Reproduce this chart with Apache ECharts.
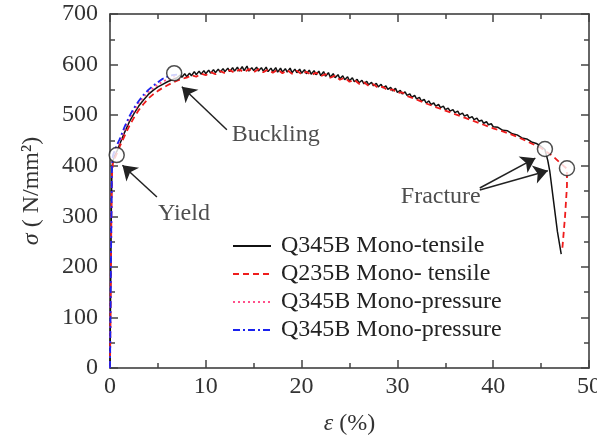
<!DOCTYPE html>
<html>
<head>
<meta charset="utf-8">
<script src="https://cdn.jsdelivr.net/npm/echarts@6/dist/echarts.min.js"></script>
<style>html,body{margin:0;padding:0;background:#fff}#c{width:597px;height:440px}</style>
</head>
<body>
<div id="c"></div>
<script>
// ---- Data ----
const xTicks = [0, 10, 20, 30, 40, 50];
const yTicks = [0, 100, 200, 300, 400, 500, 600, 700];
const seriesNames = ['Q345B Mono-tensile', 'Q235B Mono- tensile', 'Q345B Mono-pressure', 'Q345B Mono-pressure '];

const q345Tensile = [
[0,0],[0.05,120],[0.1,230],[0.15,330],[0.2,395],[0.3,410],[0.5,420],[0.8,432],[1,442],[1.5,465],[2,486],[2.5,503],[3,518],[3.5,530],[4,541],[4.5,549],[5,556],[5.5,561],[6,566],[6.5,570],[7,574],[7.3,579],[7.5,575],[7.8,582],[8,576],[8.3,583],[8.5,578],[8.8,586],[9,580],[9.3,587],[9.5,581],[9.8,588],[10,582],[10.3,589],[10.5,583],[10.8,590],[11,584],[11.3,591],[11.5,585],[11.8,592],[12,586],[12.3,593],[12.5,586],[12.8,594],[13,587],[13.3,595],[13.5,587],[13.8,596],[14,588],[14.3,597],[14.5,587],[14.8,594],[15,588],[15.3,595],[15.5,587],[15.8,594],[16,587],[16.3,595],[16.5,586],[16.8,593],[17,586],[17.3,594],[17.5,585],[17.8,593],[18,585],[18.3,592],[18.5,585],[18.8,593],[19,584],[19.3,591],[19.5,584],[19.8,591],[20,583],[20.3,590],[20.5,582],[20.8,589],[21,581],[21.3,588],[21.5,580],[21.8,587],[22,578],[22.3,586],[22.5,577],[22.8,584],[23,575],[23.3,582],[23.5,574],[23.8,580],[24,572],[24.3,578],[24.5,570],[24.8,576],[25,568],[25.3,574],[25.5,566],[25.8,571],[26,564],[26.3,569],[26.5,562],[26.8,567],[27,560],[27.3,565],[27.5,558],[27.8,563],[28,556],[28.3,561],[28.5,554],[28.8,558],[29,551],[29.3,555],[29.5,548],[29.8,553],[30,545],[30.3,549],[30.5,542],[30.8,546],[31,539],[31.3,542],[31.5,535],[31.8,539],[32,532],[32.3,535],[32.5,528],[32.8,531],[33,524],[33.3,528],[33.5,521],[33.8,524],[34,518],[34.3,521],[34.5,515],[34.8,518],[35,511],[35.3,514],[35.5,508],[35.8,511],[36,505],[36.3,508],[36.5,501],[36.8,504],[37,498],[37.3,501],[37.5,494],[37.8,497],[38,491],[38.3,494],[38.5,488],[38.8,490],[39,484],[39.3,487],[39.5,481],[39.8,483],[40,477],[40.5,476],[41,470],[41.5,469],[42,463],[42.5,461],[43,455],[43.5,453],[44,447],[44.5,444],[45,438],[45.4,432],[45.7,410],[45.9,390],[46.3,330],[46.7,270],[47.1,225]
];
const q235Tensile = [
[0,0],[0.05,100],[0.1,210],[0.15,310],[0.2,380],[0.3,405],[0.5,415],[0.8,428],[1,437],[1.5,458],[2,478],[2.5,495],[3,510],[3.5,522],[4,533],[4.5,541],[5,548],[5.5,554],[6,559],[6.5,564],[7,568],[7.5,572],[8,574],[8.5,579],[9,576],[9.5,582],[10,579],[10.5,585],[11,581],[11.5,587],[12,583],[12.5,589],[13,584],[13.5,590],[14,585],[14.5,591],[15,585],[15.5,591],[16,585],[16.5,590],[17,584],[17.5,590],[18,583],[18.5,589],[19,582],[19.5,588],[20,581],[20.5,586],[21,579],[21.5,584],[22,577],[22.5,581],[23,574],[23.5,578],[24,570],[24.5,574],[25,566],[25.5,570],[26,562],[26.5,565],[27,558],[27.5,561],[28,554],[28.5,556],[29,549],[29.5,551],[30,544],[30.5,545],[31,538],[32,531],[33,523],[34,516],[35,509],[36,502],[37,495],[38,488],[39,481],[40,474],[41,468],[42,461],[43,453],[44,444],[45,435],[45.6,427],[46.3,418],[47,405],[47.7,394],[47.7,360],[47.5,300],[47.3,255],[47.2,232]
];
const q345Pressure1 = [
[0,0],[0.1,220],[0.2,400],[0.3,418],[0.6,432],[1,446],[1.5,470],[2,492],[2.5,508],[3,524],[3.5,535],[4,546],[4.5,553],[5,561],[5.5,566],[6,571],[6.5,575],[7,578]
];
const q345Pressure2 = [
[0,0],[0.1,210],[0.2,395],[0.3,420],[0.6,436],[1,452],[1.5,476],[2,497],[2.5,514],[3,528],[3.5,540],[4,550],[4.5,558],[5,565],[5.5,572],[6,576],[6.5,579],[7,580]
];
const keyPoints = [[0.7,421],[6.7,583],[45.4,433],[47.7,395]];
const arrows = [
  [[4.9,338],[1.3,401]],
  [[12.2,471],[7.5,556]],
  [[38.6,356],[44.4,415]],
  [[38.6,352],[45.7,390]]
];
const labelsRight = [{name:'Yield', value:[5.0,306]},{name:'Buckling', value:[12.7,461]}];
const labelsLeft = [{name:'Fracture', value:[38.7,338]}];

// ---- Chart ----
const FONT = '"Liberation Serif", "Times New Roman", serif';
const FS = 24;
const chart = echarts.init(document.getElementById('c'), null, {renderer:'canvas'});
const axisLine = {show:true, onZero:false, lineStyle:{color:'#333', width:1.5}};
const tickStyle = {color:'#444', width:1.5};
function xAx(main){
  return {type:'value', min:0, max:50, interval:10, position: main?'bottom':'top',
    axisLine: axisLine, splitLine:{show:false},
    axisTick:{show:true, inside:true, length:8, lineStyle:tickStyle},
    minorTick:{show:true, splitNumber:2, length:5, lineStyle:tickStyle},
    axisLabel:{show:main, margin:7, color:'#333', fontFamily:FONT, fontSize:FS},
    name: main ? '{i|ε} (%)' : '', nameLocation:'middle', nameGap:44,
    nameTextStyle:{fontFamily:FONT, fontSize:FS, color:'#333', rich:{i:{fontFamily:FONT, fontStyle:'italic', fontSize:FS, color:'#333'}}}
  };
}
function yAx(main){
  return {type:'value', min:0, max:700, interval:100, position: main?'left':'right',
    axisLine: axisLine, splitLine:{show:false},
    axisTick:{show:true, inside:true, length:8, lineStyle:tickStyle},
    minorTick:{show:true, splitNumber:2, length:5, lineStyle:tickStyle},
    axisLabel:{show:main, margin:12, color:'#333', fontFamily:FONT, fontSize:FS},
    name: main ? '{i|σ} ( N/mm²)' : '', nameLocation:'middle', nameGap:66, nameRotate:90,
    nameTextStyle:{fontFamily:FONT, fontSize:FS, color:'#333', rich:{i:{fontFamily:FONT, fontStyle:'italic', fontSize:FS, color:'#333'}}}
  };
}
function lineSeries(name, data, color, type, width){
  return {name:name, type:'line', data:data, showSymbol:false, symbol:'none', smooth:false,
    lineStyle:{color:color, width:width, type:type}, itemStyle:{color:color}, z:2, animation:false};
}
chart.setOption({
  animation:false,
  grid:{left:110, right:8, top:14, bottom:72, containLabel:false, outerBoundsMode:'none'},
  xAxis:[xAx(true), xAx(false)],
  yAxis:[yAx(true), yAx(false)],
  legend:{orient:'vertical', left:232, top:234, padding:0, itemWidth:38, itemHeight:14, itemGap:4,
    data: seriesNames, itemStyle:{opacity:0},
    textStyle:{fontFamily:FONT, fontSize:FS, lineHeight:24, color:'#222', padding:[0,0,0,5]}},
  series:[
    lineSeries(seriesNames[0], q345Tensile, '#111111', 'solid', 1.5),
    lineSeries(seriesNames[1], q235Tensile, '#ee1c1c', [6,4], 1.8),
    lineSeries(seriesNames[2], q345Pressure1, '#ff4f8a', [2,3], 1.8),
    lineSeries(seriesNames[3], q345Pressure2, '#1a22ee', [7,3,2,3], 1.8),
    {type:'lines', coordinateSystem:'cartesian2d', polyline:false, z:4, animation:false,
      symbol:['none','arrow'], symbolSize:[10,14],
      lineStyle:{color:'#222', width:1.5, opacity:1},
      data: arrows.map(a => ({coords:a}))},
    {type:'scatter', data:keyPoints, symbol:'circle', symbolSize:15, z:5, animation:false,
      itemStyle:{color:'#fff', borderColor:'#222', borderWidth:1.5}},
    {type:'scatter', data:labelsRight, symbolSize:0, z:6, animation:false, silent:true,
      label:{show:true, position:'right', distance:0, formatter:'{b}', fontFamily:FONT, fontSize:FS, color:'#222'}},
    {type:'scatter', data:labelsLeft, symbolSize:0, z:6, animation:false, silent:true,
      label:{show:true, position:'left', distance:0, formatter:'{b}', fontFamily:FONT, fontSize:FS, color:'#222'}}
  ]
});
</script>
</body>
</html>
